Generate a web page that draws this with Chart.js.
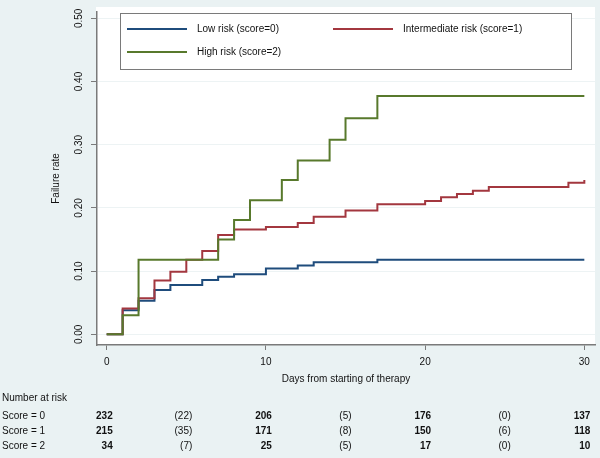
<!DOCTYPE html>
<html>
<head>
<meta charset="utf-8">
<script src="https://cdn.jsdelivr.net/npm/chart.js@4.4.0/dist/chart.umd.min.js"></script>
<style>
  html, body { margin: 0; padding: 0; background: #eaf2f3; }
  #wrap { width: 600px; height: 458px; }
</style>
</head>
<body>
<div id="wrap"><canvas id="km" width="600" height="458"></canvas></div>
<script>
// cumulative failure
const lowDays = [0, 1, 2, 3, 4, 6, 7, 8, 10, 12, 13, 17, 30];
const lowRate = [0, 0.038, 0.053, 0.070, 0.078, 0.086, 0.091, 0.095, 0.104, 0.109, 0.114, 0.118, 0.118];
const midDays = [0, 1, 2, 3, 4, 5, 6, 7, 8, 10, 12, 13, 15, 17, 20, 21, 22, 23, 24, 29, 30];
const midRate = [0, 0.041, 0.057, 0.085, 0.099, 0.118, 0.132, 0.157, 0.166, 0.170, 0.176, 0.186, 0.196, 0.206, 0.211, 0.217, 0.222, 0.227, 0.233, 0.240, 0.244];
const highDays = [0, 1, 2, 7, 8, 9, 11, 12, 14, 15, 17, 30];
const highRate = [0, 0.030, 0.118, 0.150, 0.181, 0.212, 0.244, 0.275, 0.308, 0.342, 0.377, 0.377];

const seriesLabels = ["Low risk (score=0)", "Intermediate risk (score=1)", "High risk (score=2)"];
const xTicks = [0, 10, 20, 30];
const yTicks = [0, 0.1, 0.2, 0.3, 0.4, 0.5];

// number at risk table
const riskRowLabels = ["Score = 0", "Score = 1", "Score = 2"];
const riskDays = [0, 10, 20, 30];
const censorDays = [5, 15, 25];
const atRisk0 = [232, 206, 176, 137];
const atRisk1 = [215, 171, 150, 118];
const atRisk2 = [34, 25, 17, 10];
const censored0 = [22, 5, 0];
const censored1 = [35, 8, 6];
const censored2 = [7, 5, 0];

const FONT = "'Liberation Sans', Arial, Helvetica, sans-serif";
const colors = ["#1f4c7c", "#a3373f", "#58792c"];

function pts(xs, ys) {
    return xs.map((x, i) => ({ x: x, y: ys[i] }));
}

const overlay = {
    id: "overlay",
    beforeDraw(chart) {
        const c = chart.ctx;
        const a = chart.chartArea;
        c.save();
        c.fillStyle = "#eaf2f3";
        c.fillRect(0, 0, chart.width, chart.height);
        c.fillStyle = "#ffffff";
        c.fillRect(a.left - 1, a.top - 5, a.right - a.left + 1, a.bottom - a.top + 5);
        c.restore();
    },
    afterDraw(chart) {
        const c = chart.ctx;
        const a = chart.chartArea;
        const xs = chart.scales.x;
        const ys = chart.scales.y;
        c.save();
        c.fillStyle = "#111";
        c.font = "10px " + FONT;

        // y tick labels, rotated
        c.textAlign = "center";
        c.textBaseline = "middle";
        yTicks.forEach(v => {
            c.save();
            c.translate(79, ys.getPixelForValue(v));
            c.rotate(-Math.PI / 2);
            c.fillText(v.toFixed(2), 0, 0);
            c.restore();
        });

        // y title
        c.save();
        c.translate(56, (a.top + a.bottom) / 2);
        c.rotate(-Math.PI / 2);
        c.fillText("Failure rate", 0, 0);
        c.restore();

        // x title
        c.fillText("Days from starting of therapy", (a.left + a.right) / 2, 379);

        // legend
        const lx = 120, ly = 13, lw = 451, lh = 56;
        c.fillStyle = "#fff";
        c.fillRect(lx, ly, lw, lh);
        c.strokeStyle = "#7a7a7a";
        c.lineWidth = 1;
        c.strokeRect(lx + 0.5, ly + 0.5, lw, lh);
        const slots = [[127, 29], [333, 29], [127, 52]];
        c.textAlign = "left";
        c.fillStyle = "#111";
        chart.data.datasets.forEach((ds, i) => {
            const [sx, sy] = slots[i];
            c.strokeStyle = ds.borderColor;
            c.lineWidth = 2;
            c.beginPath();
            c.moveTo(sx, sy);
            c.lineTo(sx + 60, sy);
            c.stroke();
            c.fillText(ds.label, sx + 70, sy);
        });

        // number at risk
        c.fillText("Number at risk", 2, 398);
        const rowsY = [416.5, 431.5, 446.5];
        const risk = [atRisk0, atRisk1, atRisk2];
        const cens = [censored0, censored1, censored2];
        riskRowLabels.forEach((lab, r) => {
            c.textAlign = "left";
            c.font = "10px " + FONT;
            c.fillText(lab, 2, rowsY[r]);
            c.textAlign = "right";
            c.font = "bold 10px " + FONT;
            riskDays.forEach((d, i) => {
                c.fillText(String(risk[r][i]), xs.getPixelForValue(d) + 6, rowsY[r]);
            });
            c.font = "10px " + FONT;
            censorDays.forEach((d, i) => {
                c.fillText("(" + cens[r][i] + ")", xs.getPixelForValue(d) + 6, rowsY[r]);
            });
        });
        c.restore();
    }
};

const ctx = document.getElementById("km").getContext("2d");
new Chart(ctx, {
    type: "line",
    data: {
        datasets: [
            { label: seriesLabels[0], data: pts(lowDays, lowRate), borderColor: colors[0], order: 2 },
            { label: seriesLabels[1], data: pts(midDays, midRate), borderColor: colors[1], order: 1 },
            { label: seriesLabels[2], data: pts(highDays, highRate), borderColor: colors[2], order: 0 }
        ]
    },
    options: {
        responsive: false,
        animation: false,
        devicePixelRatio: 1,
        elements: {
            line: { stepped: true, borderWidth: 2, tension: 0, fill: false },
            point: { radius: 0 }
        },
        layout: { padding: { left: 0, right: 5, top: 12, bottom: 0 } },
        plugins: {
            legend: { display: false },
            tooltip: { enabled: false }
        },
        scales: {
            x: {
                type: "linear",
                min: -0.61,
                max: 30.67,
                afterBuildTicks: s => { s.ticks = xTicks.map(v => ({ value: v })); },
                afterFit: s => { s.height = 113; },
                border: { color: "#7a7a7a", width: 1.5 },
                grid: { drawOnChartArea: false, tickLength: 5, tickColor: "#7a7a7a", tickWidth: 1 },
                ticks: {
                    color: "#111",
                    padding: 6,
                    font: { family: FONT, size: 10 },
                    maxRotation: 0,
                    callback: v => String(v)
                }
            },
            y: {
                type: "linear",
                min: -0.0169,
                max: 0.51,
                afterBuildTicks: s => { s.ticks = yTicks.map(v => ({ value: v })); },
                afterFit: s => { s.width = 97; },
                border: { color: "#7a7a7a", width: 1.5 },
                grid: { color: "#edf3f4", lineWidth: 1, tickLength: 6, tickColor: "#7a7a7a", tickWidth: 1 },
                ticks: { display: false }
            }
        }
    },
    plugins: [overlay]
});
</script>
</body>
</html>
